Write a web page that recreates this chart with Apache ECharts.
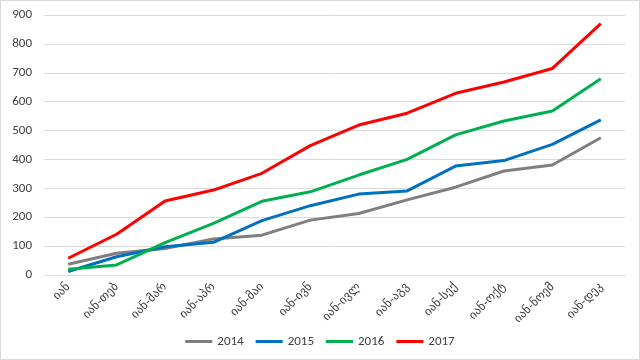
<!DOCTYPE html>
<html><head><meta charset="utf-8">
<script src="https://cdn.jsdelivr.net/npm/echarts@6/dist/echarts.min.js"></script>
<style>html,body{margin:0;padding:0;background:#fff}#c{width:638px;height:358px;border:1px solid #d9d9d9}</style>
</head><body><div id="c"></div>
<script>
const categories = ["იან","იან-თებ","იან-მარ","იან-აპრ","იან-მაი","იან-ივნ","იან-ივლ","იან-აგვ","იან-სექ","იან-ოქტ","იან-ნოემ","იან-დეკ"];
const s2014 = [37,75,92,125,138,190,213,260,304,360,381,475];
const s2015 = [12,63,98,113,188,240,280,291,377,396,452,537];
const s2016 = [20,35,112,179,255,288,346,400,485,533,568,679];
const s2017 = [58,141,256,294,352,448,519,560,629,668,715,870];
const yTicks = [0,100,200,300,400,500,600,700,800,900];
const names = ["2014","2015","2016","2017"];
const colors = ["#7f7f7f","#0070c0","#00b050","#ff0000"];
const all = [s2014,s2015,s2016,s2017];
const chart = echarts.init(document.getElementById('c'));
chart.setOption({
  animation:false,
  grid:{left:43,right:14,top:14,bottom:84,containLabel:false},
  legend:{bottom:6,left:'center',icon:'rect',itemWidth:27,itemHeight:3,itemGap:12,
    textStyle:{color:'#404040',fontSize:13,fontFamily:'Carlito, Calibri, "Liberation Sans", sans-serif'},data:names},
  xAxis:{type:'category',data:categories,boundaryGap:true,
    axisLine:{lineStyle:{color:'#d9d9d9'}},axisTick:{show:false},
    axisLabel:{rotate:45,color:'#404040',fontSize:12,interval:0,margin:10,fontFamily:'"DejaVu Sans", sans-serif'}},
  yAxis:{type:'value',min:yTicks[0],max:yTicks[yTicks.length-1],interval:100,
    axisLine:{show:false},axisTick:{show:false},
    splitLine:{lineStyle:{color:'#d9d9d9'}},
    axisLabel:{color:'#404040',fontSize:13,margin:12,fontFamily:'Carlito, "Liberation Sans", sans-serif'}},
  series: all.map((d,i)=>({
    name:names[i],type:'line',showSymbol:false,symbol:'none',
    lineStyle:{width:3,color:colors[i]},itemStyle:{color:colors[i]},
    data:d.map((v,j)=> j===d.length-1 ? {value:v,label:{show:true,position:'right',distance:10,color:'#000',fontWeight:'bold',fontSize:13,fontFamily:'Carlito, "Liberation Sans", sans-serif'}} : v)
  }))
});
</script></body></html>
